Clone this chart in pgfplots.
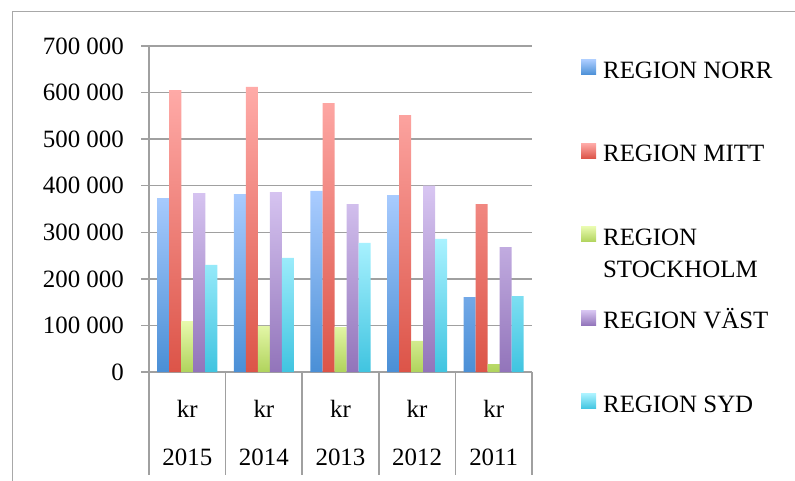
\documentclass[border=0pt]{standalone}
\usepackage{pgfplots}
\pgfplotsset{compat=1.18}
\usepackage{fontspec}
\setmainfont{Liberation Serif}
\definecolor{gridgray}{HTML}{A0A0A0}
\definecolor{framegray}{HTML}{A8A8A8}
\definecolor{norrT}{HTML}{AACCFF}\definecolor{norrB}{HTML}{4A8FD6}
\definecolor{mittT}{HTML}{FFABA8}\definecolor{mittB}{HTML}{DC5448}
\definecolor{stoT}{HTML}{E8FAAE}\definecolor{stoB}{HTML}{B0D35C}
\definecolor{vastT}{HTML}{D8C6F2}\definecolor{vastB}{HTML}{9274BA}
\definecolor{sydT}{HTML}{AAF2FF}\definecolor{sydB}{HTML}{40C4E0}
\begin{document}
\begin{tikzpicture}[font=\fontsize{25}{33}\selectfont]
\useasboundingbox (0,0) rectangle (795bp,481bp);
\draw[framegray, line width=1bp] (12bp,-5bp) -- (12bp,469bp) -- (800bp,469bp);
\begin{axis}[
  at={(149bp,109bp)}, anchor=south west,
  scale only axis, width=383bp, height=326bp,
  xmin=-0.5, xmax=4.5, ymin=0, ymax=700000,
  clip=false,
  ybar=0pt, bar width=12bp,
  axis lines*=left,
  axis line style={gridgray, line width=1.5bp},
  ymajorgrids, grid style={gridgray, line width=1.5bp},
  scaled y ticks=false,
  ytick={0,100000,200000,300000,400000,500000,600000,700000},
  yticklabels={0,{100 000},{200 000},{300 000},{400 000},{500 000},{600 000},{700 000}},
  tick align=outside, major tick length=8bp,
  ytick style={gridgray, line width=1.5bp},
  xtick={0,1,2,3,4}, xticklabels={kr,kr,kr,kr,kr},
  xtick style={draw=none},
  xticklabel style={anchor=base, yshift=-37bp},
  yticklabel style={anchor=east, inner sep=0pt, xshift=-17bp},
  regbar/.style={draw=none, legend image code/.code={\path[##1] (0bp,-7.5bp) rectangle (15bp,7.5bp);}},
  legend style={draw=none, fill=none, at={(rel axis cs:1.120,0.985)}, anchor=north west,
    row sep=55bp, /tikz/every odd column/.append style={column sep=5bp}},
  legend cell align=left,
]
\addplot[regbar, top color=norrT, bottom color=norrB] coordinates {(0,373600) (1,382000) (2,388700) (3,380000) (4,161000)};
\addplot[regbar, top color=mittT, bottom color=mittB] coordinates {(0,605500) (1,612000) (2,577600) (3,551800) (4,360700)};
\addplot[regbar, top color=stoT, bottom color=stoB] coordinates {(0,109500) (1,98800) (2,96600) (3,66600) (4,17000)};
\addplot[regbar, top color=vastT, bottom color=vastB] coordinates {(0,384000) (1,386500) (2,360700) (3,400000) (4,268400)};
\addplot[regbar, top color=sydT, bottom color=sydB] coordinates {(0,229800) (1,244800) (2,277000) (3,285600) (4,163000)};
\addlegendentry{\strut REGION NORR}
\addlegendentry{\strut REGION MITT}
\addlegendentry{\strut\smash{\parbox[t]{6cm}{\fontsize{25}{33}\selectfont REGION\\STOCKHOLM}}}
\addlegendentry{\strut REGION VÄST}
\addlegendentry{\strut REGION SYD}
\pgfplotsinvokeforeach{-0.5,0.5,1.5,2.5,3.5,4.5}{
  \draw[gridgray, line width=1.5bp] (axis cs:#1,0) -- ++(0pt,-103bp);
}
\node[anchor=base, yshift=-93bp] at (axis cs:0,0) {2015};
\node[anchor=base, yshift=-93bp] at (axis cs:1,0) {2014};
\node[anchor=base, yshift=-93bp] at (axis cs:2,0) {2013};
\node[anchor=base, yshift=-93bp] at (axis cs:3,0) {2012};
\node[anchor=base, yshift=-93bp] at (axis cs:4,0) {2011};
\end{axis}
\end{tikzpicture}
\end{document}
